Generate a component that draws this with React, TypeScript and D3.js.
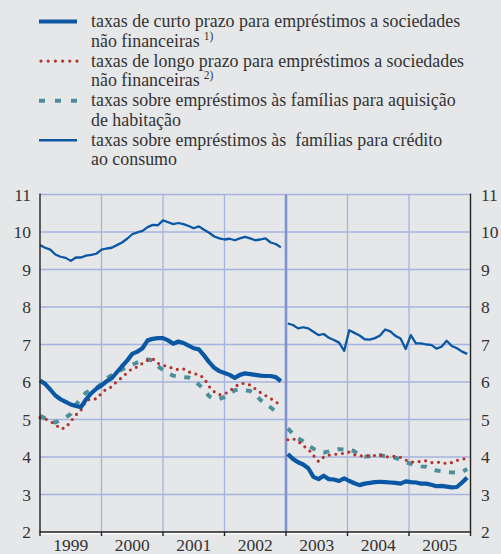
import React, { useEffect } from "react";
import * as d3 from "d3";

const W = 501;
const H = 554;

const years = ["1999", "2000", "2001", "2002", "2003", "2004", "2005"];
const yTicks = [2, 3, 4, 5, 6, 7, 8, 9, 10, 11];

// 1999-2002 monthly (48 values)
const shortNFC1 = [6.04, 5.95, 5.8, 5.64, 5.54, 5.47, 5.4, 5.36, 5.33, 5.54, 5.7, 5.82, 5.91, 6.02, 6.1, 6.26, 6.42, 6.57, 6.75, 6.81, 6.9, 7.11, 7.15, 7.17, 7.17, 7.11, 7.02, 7.08, 7.04, 6.97, 6.9, 6.87, 6.71, 6.53, 6.38, 6.29, 6.24, 6.19, 6.11, 6.19, 6.23, 6.21, 6.19, 6.17, 6.16, 6.16, 6.13, 6.02];
const longNFC1 = [5.05, 5.02, 4.95, 4.87, 4.75, 4.78, 4.95, 5.12, 5.25, 5.5, 5.55, 5.55, 5.7, 5.82, 5.87, 6.02, 6.12, 6.25, 6.36, 6.4, 6.5, 6.58, 6.62, 6.5, 6.44, 6.42, 6.35, 6.33, 6.35, 6.27, 6.22, 6.2, 6.1, 5.88, 5.74, 5.66, 5.68, 5.76, 5.87, 5.96, 5.96, 5.92, 5.82, 5.72, 5.64, 5.56, 5.47, 5.38];
const housing1 = [5.1, 5.03, 4.97, 4.92, 4.98, 5.05, 5.15, 5.4, 5.55, 5.72, 5.78, 5.84, 5.95, 6.1, 6.18, 6.25, 6.33, 6.42, 6.46, 6.52, 6.56, 6.6, 6.58, 6.42, 6.32, 6.23, 6.17, 6.15, 6.13, 6.12, 6.05, 5.93, 5.8, 5.62, 5.55, 5.55, 5.6, 5.68, 5.78, 5.8, 5.78, 5.76, 5.68, 5.52, 5.42, 5.32, 5.22, 5.15];
const consumer1 = [9.65, 9.58, 9.53, 9.4, 9.34, 9.31, 9.23, 9.32, 9.32, 9.37, 9.39, 9.42, 9.53, 9.56, 9.58, 9.65, 9.72, 9.82, 9.94, 9.99, 10.03, 10.13, 10.19, 10.18, 10.31, 10.26, 10.21, 10.24, 10.21, 10.16, 10.1, 10.15, 10.06, 9.98, 9.88, 9.83, 9.8, 9.82, 9.78, 9.83, 9.87, 9.83, 9.78, 9.8, 9.83, 9.72, 9.68, 9.59];

// 2003-2005 monthly (36 values)
const shortNFC2 = [4.08, 3.95, 3.86, 3.8, 3.7, 3.47, 3.41, 3.5, 3.41, 3.4, 3.36, 3.43, 3.36, 3.3, 3.25, 3.29, 3.31, 3.33, 3.34, 3.33, 3.32, 3.31, 3.29, 3.35, 3.33, 3.32, 3.29, 3.29, 3.26, 3.22, 3.23, 3.21, 3.19, 3.2, 3.32, 3.45];
const longNFC2 = [4.46, 4.49, 4.42, 4.3, 4.21, 4.04, 3.88, 4.0, 4.05, 4.07, 4.08, 4.1, 4.13, 4.06, 4.03, 4.03, 4.03, 4.04, 4.05, 4.0, 4.01, 4.02, 3.99, 3.92, 3.87, 3.86, 3.89, 3.9, 3.85, 3.86, 3.86, 3.82, 3.85, 3.91, 3.94, 3.97];
const housing2 = [4.76, 4.62, 4.5, 4.42, 4.32, 4.22, 4.15, 4.12, 4.15, 4.19, 4.21, 4.2, 4.21, 4.15, 4.06, 4.01, 4.02, 4.04, 4.05, 4.02, 4.0, 3.98, 3.93, 3.86, 3.82, 3.78, 3.75, 3.74, 3.68, 3.64, 3.62, 3.6, 3.59, 3.58, 3.6, 3.68];
const consumer2 = [7.56, 7.52, 7.43, 7.46, 7.43, 7.34, 7.25, 7.28, 7.18, 7.12, 7.05, 6.83, 7.38, 7.31, 7.24, 7.14, 7.13, 7.17, 7.24, 7.4, 7.35, 7.23, 7.16, 6.88, 7.25, 7.03, 7.03, 7.0, 6.99, 6.89, 6.94, 7.1, 6.96, 6.9, 6.81, 6.75];

const legendLabels = [
  ["taxas de curto prazo para empréstimos a sociedades", "não financeiras", "1)"],
  ["taxas de longo prazo para empréstimos a sociedades", "não financeiras", "2)"],
  ["taxas sobre empréstimos às famílias para aquisição", "de habitação", ""],
  ["taxas sobre empréstimos às\u00a0 famílias para crédito", "ao consumo", ""],
];

const BLUE = "#0a57a4";
const RED = "#b2352c";
const TEAL = "#4b8e9c";
const GRID = "#a6b3de";
const BG = "#e6e7e9";
const TEXT = "#333";

const styles = [
  { color: BLUE, width: 4.2, dash: null as string | null, cap: "butt" },
  { color: RED, width: 3.2, dash: "0 6.6", cap: "round" },
  { color: TEAL, width: 4, dash: "6 8.5", cap: "butt" },
  { color: BLUE, width: 2.3, dash: null as string | null, cap: "butt" },
];

const FONT = '"Liberation Serif"';
const CSS = `svg text, svg tspan { font-family: "Liberation Serif", "Tinos", "FreeSerif" !important; }`;

export default function App() {
  useEffect(() => {
    document.body.style.margin = "0";
    document.body.style.background = BG;
  }, []);

  const left = 40;
  const right = 470.5;
  const top = 194.5;
  const bottom = 532;

  const x = d3.scaleLinear().domain([0, 84]).range([left, right]);
  const y = d3.scaleLinear().domain([2, 11]).range([bottom, top]);

  const line1 = d3
    .line<number>()
    .x((_, i) => x(i))
    .y((d) => y(d));
  const line2 = d3
    .line<number>()
    .x((_, i) => x(48 + 0.35 + i))
    .y((d) => y(d));

  const series = [
    [shortNFC1, shortNFC2],
    [longNFC1, longNFC2],
    [housing1, housing2],
    [consumer1, consumer2],
  ];
  const drawOrder = [3, 2, 1, 0];
  const ts = { fontFamily: FONT };

  return (
    <svg width={W} height={H}>
      <style>{CSS}</style>
      <rect x={0} y={0} width={W} height={H} fill={BG} />
      {/* legend */}
      {legendLabels.map((lab, k) => {
        const cy = 21.5 + k * 39.6;
        const st = styles[k];
        return (
          <g key={k}>
            <line
              x1={k === 1 ? 41 : 39}
              x2={77}
              y1={cy}
              y2={cy}
              stroke={st.color}
              strokeWidth={k === 0 ? 4.2 : k === 3 ? 2.6 : st.width}
              strokeDasharray={k === 1 ? "0 7.2" : k === 2 ? "6 10" : undefined}
              strokeLinecap={st.cap as any}
            />
            <text x={91} y={cy + 5.5} fontSize={17.9} fill={TEXT} style={ts}>
              {lab[0]}
            </text>
            <text x={91} y={cy + 25} fontSize={17.9} fill={TEXT} style={ts}>
              {lab[1]}
              {lab[2] ? (
                <tspan fontSize={11.5} dy={-7} dx={4}>
                  {lab[2]}
                </tspan>
              ) : null}
            </text>
          </g>
        );
      })}

      {/* grid */}
      {yTicks
        .filter((t) => t > 2)
        .map((t) => (
          <line key={t} x1={left} x2={right} y1={y(t)} y2={y(t)} stroke={GRID} strokeWidth={1.3} />
        ))}
      {years.slice(1).map((yr, i) => {
        const xv = x((i + 1) * 12);
        const brk = yr === "2003";
        return (
          <line
            key={yr}
            x1={xv}
            x2={xv}
            y1={top}
            y2={bottom}
            stroke={brk ? "#7e93cc" : GRID}
            strokeWidth={brk ? 2.6 : 1.3}
          />
        );
      })}

      {/* series */}
      {drawOrder.map((k) => {
        const st = styles[k];
        return (
          <g key={k}>
            {series[k].map((data, j) => (
              <path
                key={j}
                d={(j === 0 ? line1 : line2)(data) || ""}
                fill="none"
                stroke={st.color}
                strokeWidth={st.width}
                strokeDasharray={st.dash || undefined}
                strokeLinecap={st.cap as any}
                strokeLinejoin="round"
              />
            ))}
          </g>
        );
      })}

      {/* axes */}
      <line x1={left} x2={left} y1={top - 1} y2={bottom + 1} stroke="#222" strokeWidth={1.4} />
      <line x1={right} x2={right} y1={top - 1} y2={bottom + 1} stroke="#222" strokeWidth={1.4} />
      <line x1={left} x2={right} y1={bottom + 1.5} y2={bottom + 1.5} stroke="#fff" strokeWidth={1.5} />
      <line x1={left} x2={right} y1={bottom} y2={bottom} stroke="#222" strokeWidth={1.4} />
      {d3.range(0, 8).map((i) => (
        <line
          key={i}
          x1={x(i * 12)}
          x2={x(i * 12)}
          y1={bottom}
          y2={bottom + 4}
          stroke="#222"
          strokeWidth={1.4}
        />
      ))}
      {yTicks.map((t) => (
        <g key={t}>
          <text x={31} y={y(t) + 6} fontSize={17.5} textAnchor="end" fill={TEXT} style={ts}>
            {t}
          </text>
          <text x={481} y={y(t) + 6} fontSize={17.5} fill={TEXT} style={ts}>
            {t}
          </text>
        </g>
      ))}
      {years.map((yr, i) => (
        <text key={yr} x={x(i * 12 + 6)} y={551} fontSize={17.5} textAnchor="middle" fill={TEXT} style={ts}>
          {yr}
        </text>
      ))}
    </svg>
  );
}
